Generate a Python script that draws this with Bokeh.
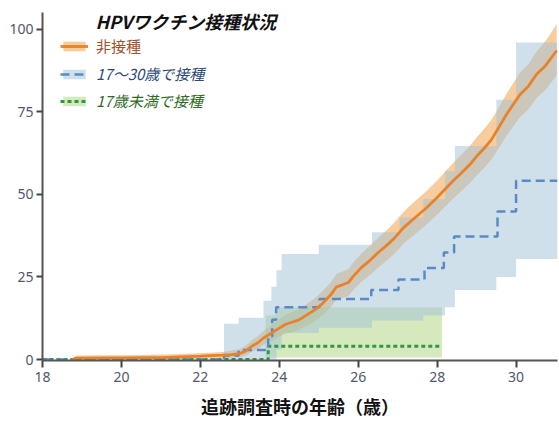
from bokeh.plotting import figure
from bokeh.models import Legend, LegendItem, Label, FixedTicker, Range1d
from bokeh.embed import file_html
from bokeh.resources import INLINE

# ---- data ----
orange_age = [18.75, 18.85, 19.5, 20.0, 20.5, 21.0, 21.5, 22.0, 22.55, 22.8, 23.0, 23.15, 23.3, 23.45, 23.6, 23.8,
              24.0, 24.15, 24.3, 24.5, 24.7, 24.9, 25.1, 25.3, 25.45, 25.6, 25.75, 25.9, 26.08, 26.3, 26.5, 26.7,
              26.9, 27.15, 27.4, 27.74, 28.0, 28.2, 28.4, 28.6, 28.83, 29.0, 29.2, 29.38, 29.5, 29.76, 30.1, 30.3,
              30.52, 30.75, 31.03]
orange_val = [0, 0.4, 0.5, 0.5, 0.6, 0.6, 0.8, 1.0, 1.3, 1.5, 1.8, 2.6, 4.0, 5.0, 6.5, 8.0,
              9.5, 10.6, 11.2, 12.0, 13.5, 15.0, 17.0, 19.5, 22.0, 22.6, 23.3, 25.5, 27.8, 30.0, 32.3, 34.3,
              36.5, 39.9, 42.5, 46.0, 49.0, 51.5, 54.0, 56.3, 59.0, 61.5, 64.0, 66.6, 69.0, 74.2, 80.2, 82.5,
              86.3, 89.0, 93.5]
orange_hi = [0, 1.2, 1.3, 1.3, 1.4, 1.5, 1.7, 1.9, 2.3, 2.7, 3.2, 4.2, 5.8, 7.0, 8.6, 10.4,
             12.2, 13.5, 14.3, 15.2, 16.9, 18.5, 20.7, 23.3, 25.9, 26.6, 27.4, 29.7, 32.1, 34.4, 36.8, 38.9,
             41.2, 44.7, 47.5, 51.1, 54.2, 56.8, 59.4, 61.8, 64.6, 67.2, 69.9, 72.6, 75.0, 80.5, 86.8, 89.2,
             93.2, 96.4, 101.5]
orange_lo = [0, 0, 0, 0, 0, 0, 0, 0.2, 0.4, 0.5, 0.7, 1.2, 2.3, 3.1, 4.4, 5.7,
             6.9, 7.8, 8.2, 8.9, 10.2, 11.5, 13.4, 15.7, 18.1, 18.6, 19.2, 21.3, 23.5, 25.6, 27.8, 29.7,
             31.8, 35.1, 37.5, 40.9, 43.8, 46.2, 48.6, 50.8, 53.4, 55.7, 58.1, 60.6, 62.8, 67.7, 73.4, 75.5,
             79.1, 81.6, 86.0]

blue_age = [18.0, 22.6, 22.97, 23.72, 23.82, 23.92, 25.02, 26.33, 27.02, 27.68, 28.17, 28.43, 29.53, 30.0, 31.05]
blue_val = [0, 1.2, 2.9, 7.0, 12.0, 15.8, 18.3, 21.0, 24.2, 27.7, 32.4, 37.2, 44.8, 54.1, 54.1]

blue_band_age = [22.6, 22.97, 23.6, 23.8, 23.93, 24.06, 25.0, 26.35, 27.05, 27.65, 28.2, 28.45, 29.5, 30.0, 31.05]
blue_band_hi = [10.8, 12.6, 17.8, 22.0, 27.0, 31.9, 34.7, 38.5, 43.0, 48.6, 57.0, 64.6, 78.6, 95.9, 95.9]
blue_band_lo = [0, 0, 0, 0, 3.0, 8.0, 9.6, 11.8, 11.8, 13.3, 15.8, 21.0, 25.0, 30.4, 30.4]

green_age = [18.0, 23.72, 28.12]
green_val = [0, 4.0, 4.0]
green_band_age = [23.65, 23.9, 28.12]
green_band_hi = [13.3, 15.8, 15.8]
green_band_lo = [0.6, 0.6, 0.6]

x_ticks = [18, 20, 22, 24, 26, 28, 30]
y_ticks = [0, 25, 50, 75, 100]

legend_title = "HPVワクチン接種状況"
labels = ["非接種", "17～30歳で接種", "17歳未満で接種"]
x_label = "追跡調査時の年齢（歳）"

JP = "Noto Sans CJK JP"

p = figure(width=559, height=421, output_backend="svg", toolbar_location=None,
           x_range=Range1d(18, 31.05), y_range=Range1d(-0.3, 105),
           min_border_left=42, min_border_right=2, min_border_top=12, min_border_bottom=10)
p.outline_line_color = None
p.xgrid.visible = False
p.ygrid.visible = False
p.background_fill_color = "white"

# bands
ob = p.varea(x=orange_age, y1=orange_lo, y2=orange_hi, fill_color="#F2AC5F", fill_alpha=0.6)
gb = p.varea_step(x=green_band_age, y1=green_band_lo, y2=green_band_hi, step_mode="after",
                  fill_color="#ADD17D", fill_alpha=0.5)
bb = p.varea_step(x=blue_band_age, y1=blue_band_lo, y2=blue_band_hi, step_mode="after",
                  fill_color="#9FC1D5", fill_alpha=0.5)

# lines
gl = p.step(x=green_age, y=green_val, mode="after", line_color="#2E9A3E", line_width=3, line_dash="4 3")
bl = p.step(x=blue_age, y=blue_val, mode="after", line_color="#5A8AC6", line_width=2.5, line_dash="9 5")
ol = p.line(x=orange_age, y=orange_val, line_color="#E8822A", line_width=2.8)

# axes
for ax in (p.xaxis[0], p.yaxis[0]):
    ax.axis_line_color = "#555555"
    ax.axis_line_width = 2
    ax.major_tick_line_color = "#444444"
    ax.major_tick_line_width = 2
    ax.minor_tick_line_color = None
    ax.major_tick_in = 0
    ax.major_label_text_font = "Noto Sans"
    ax.major_label_text_font_size = "14px"
    ax.major_label_text_color = "#4f586b"

p.xaxis.ticker = FixedTicker(ticks=x_ticks)
p.yaxis.ticker = FixedTicker(ticks=y_ticks)
p.xaxis.major_tick_out = 7
p.yaxis.major_tick_out = 6
p.yaxis.major_label_standoff = 3
p.xaxis.major_label_standoff = 4
p.xaxis.axis_label = x_label
p.xaxis.axis_label_text_font = JP
p.xaxis.axis_label_text_font_style = "bold"
p.xaxis.axis_label_text_font_size = "18px"
p.xaxis.axis_label_text_color = "#111111"
p.xaxis.axis_label_standoff = 8

# legend title
p.add_layout(Label(x=19.34, y=102.4, text=legend_title, text_font=JP, text_font_style="bold italic",
                   text_font_size="18px", text_baseline="middle", text_color="#111111"))

def mk_legend(label, rends, color, style, vy):
    lg = Legend(items=[LegendItem(label=label, renderers=rends)], location=(18, vy),
                orientation="vertical", background_fill_alpha=0, border_line_alpha=0,
                padding=0, margin=0, glyph_width=28, glyph_height=12, label_standoff=8,
                label_text_font_size="15px", label_text_color=color, label_text_font_style=style,
                label_text_font=JP, label_height=14, spacing=0)
    p.add_layout(lg)

mk_legend(labels[0], [ob, ol], "#A0522D", "normal", 304)
mk_legend(labels[1], [bb, bl], "#2B4A7A", "italic", 276)
mk_legend(labels[2], [gb, gl], "#2F6B1F", "italic", 249)

open("out.html", "w").write(file_html(p, INLINE))
